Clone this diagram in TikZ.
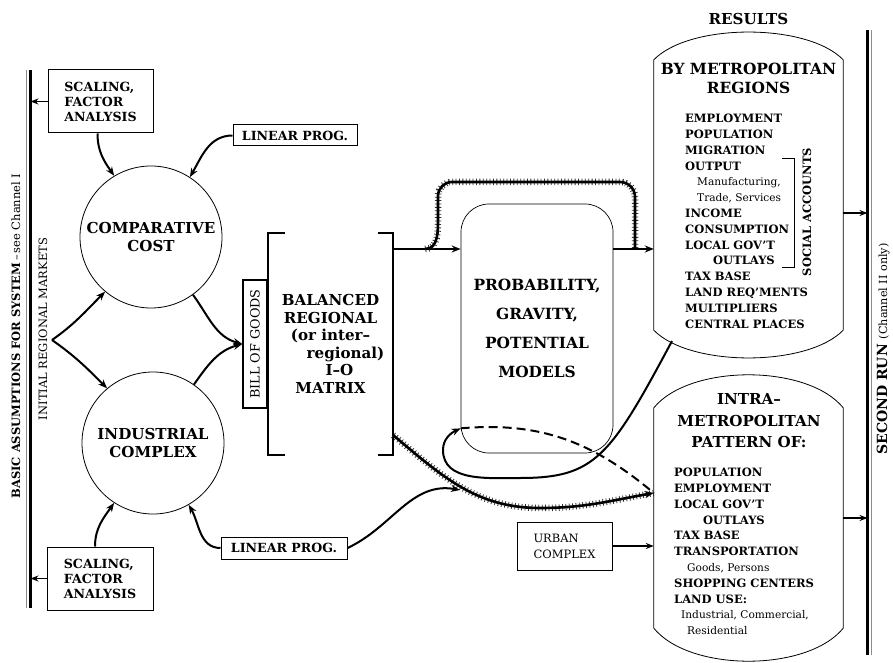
\documentclass[tikz,border=0pt]{standalone}
\usepackage{fontspec}
\setmainfont{DejaVu Serif}
\usepackage{graphicx}
\usepackage{tikz}
\usetikzlibrary{arrows.meta}

\tikzset{
  conn/.style={line width=2pt,-{Stealth[length=9pt,width=7pt]}},
  thinconn/.style={line width=1.4pt,-{Stealth[length=8pt,width=6pt]}},
  hatched/.style={line width=2.6pt,preaction={draw,arrows=-,line width=6.5pt,dash pattern=on 0.8pt off 2.6pt,black!80}},
  bigtxt/.style={font=\fontsize{15.1}{18}\selectfont\bfseries},
  toolbox/.style={draw,line width=1pt,align=left,font=\fontsize{12.6}{15}\selectfont\bfseries},
  listtxt/.style={anchor=north west,inner sep=0pt,align=left,font=\fontsize{11.5}{15.8}\selectfont\bfseries},
  barrel/.style={line width=0.8pt},
}
% outline of a results box round node #1, arch height #2
\newcommand{\barrelpath}[2]{%
  \draw[barrel] (#1.south west) -- (#1.north west)
    .. controls +(36,#2) and +(-36,#2) .. (#1.north east)
    -- (#1.south east)
    .. controls +(-36,-#2) and +(36,-#2) .. (#1.south west) -- cycle;}
\newcommand{\lc}{\mdseries\fontsize{10.6}{15.8}\selectfont}

\begin{document}
\begin{tikzpicture}[x=1pt,y=1pt]
\useasboundingbox (0,0) rectangle (893,662);
% Side bars
\draw[black!45,line width=1.5pt] (26.5,54) -- (26.5,592);
\draw[line width=2.2pt] (30.5,54) coordinate (lb0) -- (30.5,592) coordinate (lb1);
\draw[black!45,line width=1.5pt] (871.5,7) -- (871.5,632);
\draw[line width=2.2pt] (867.5,7) coordinate (rb0) -- (867.5,632) coordinate (rb1);
\node[rotate=90,anchor=base,font=\fontsize{11.5}{13}\selectfont] (basic) at (20,326)
  {\textbf{BASIC ASSUMPTIONS FOR SYSTEM}\,--\,see Channel I};
\node[rotate=90,anchor=base,font=\fontsize{11.5}{14}\selectfont] (irmtxt) at (47,333) {INITIAL REGIONAL MARKETS};
\node[rotate=90,anchor=base] (second) at (887,313)
  {{\fontsize{14}{17}\selectfont\bfseries SECOND RUN}\enspace{\fontsize{11.2}{12}\selectfont(Channel II only)}};
\node[bigtxt] (results) at (748.5,643) {RESULTS};

% Tools
\node[toolbox,minimum width=105pt,minimum height=63pt] (sc1) at (100.5,560.5) {SCALING,\\FACTOR\\ANALYSIS};
\node[toolbox,minimum width=106pt,minimum height=63pt] (sc2) at (100,83.5) {SCALING,\\FACTOR\\ANALYSIS};
\node[toolbox,minimum width=124pt,minimum height=21pt,inner sep=1pt] (lp1) at (295,526.5) {LINEAR PROG.};
\node[toolbox,minimum width=126pt,minimum height=22pt,inner sep=1pt] (lp2) at (284,114) {LINEAR PROG.};

% Location circles
\node[circle,draw,line width=0.8pt,minimum size=142pt,inner sep=0pt,bigtxt,align=center] (cc) at (151,425) {COMPARATIVE\\COST};
\node[circle,draw,line width=0.8pt,minimum size=142pt,inner sep=0pt,bigtxt,align=center] (ic) at (153,219) {INDUSTRIAL\\COMPLEX};
\coordinate (irm) at (52,322);

% I-O matrix
\node[minimum width=125pt,minimum height=222pt,inner sep=0pt,align=center,font=\fontsize{15.1}{17.5}\selectfont\bfseries] (iom) at (330.5,318)
  {BALANCED\\REGIONAL\\(or inter--\\\hspace*{30pt}regional)\\\hspace*{18pt}I--O\\MATRIX};
\draw[line width=2.5pt] ([xshift=17pt]iom.north west) -- (iom.north west) -- (iom.south west) -- ([xshift=17pt]iom.south west);
\draw[line width=2.5pt] ([xshift=-15pt]iom.north east) -- (iom.north east) -- (iom.south east) -- ([xshift=-15pt]iom.south east);
\node[draw,line width=1.5pt,minimum width=24pt,minimum height=128pt,inner sep=0pt,anchor=east,font=\fontsize{12.8}{14}\selectfont] (bog) at (iom.west) {\rotatebox{90}{BILL OF GOODS}};

% Models
\node[draw,rounded corners=28pt,line width=0.7pt,minimum width=152pt,minimum height=249pt,align=center,font=\fontsize{15.4}{29}\selectfont\bfseries] (pgm) at (537,333.5)
  {PROBABILITY,\\GRAVITY,\\POTENTIAL\\MODELS};
\node[draw,line width=0.8pt,minimum width=95pt,minimum height=48pt,align=left,font=\fontsize{11.5}{16}\selectfont] (urb) at (564.5,116) {URBAN\\COMPLEX};

% Results
\node[minimum width=189pt,minimum height=270pt,inner sep=0pt] (reg) at (748.5,467) {};
\barrelpath{reg}{37}
\node[minimum width=189pt,minimum height=220pt,inner sep=0pt] (intra) at (748.5,144) {};
\barrelpath{intra}{44}
\node[align=center,font=\fontsize{15.4}{19}\selectfont\bfseries] (reghead) at (748.5,583.5) {BY METROPOLITAN\\REGIONS};
\node[listtxt] (reglist) at (685,548) {EMPLOYMENT\\POPULATION\\MIGRATION\\OUTPUT\\\hspace*{12pt}{\lc Manufacturing,}\\\hspace*{12pt}{\lc Trade, Services}\\INCOME\\CONSUMPTION\\LOCAL GOV'T\\\hspace*{28pt}OUTLAYS\\TAX BASE\\LAND REQ'MENTS\\MULTIPLIERS\\CENTRAL PLACES};
\draw[line width=0.8pt] (782,504) -- (794,504) -- (794,395) -- (782,395);
\node[rotate=90,anchor=base,font=\fontsize{11.5}{13}\selectfont\bfseries] (social) at (811,450) {SOCIAL ACCOUNTS};
\node[align=center,font=\fontsize{15.1}{21.5}\selectfont\bfseries] (intrahead) at (749,241) {INTRA--\\METROPOLITAN\\PATTERN OF:};
\node[listtxt] (intralist) at (674,194) {POPULATION\\EMPLOYMENT\\LOCAL GOV'T\\\hspace*{29pt}OUTLAYS\\TAX BASE\\TRANSPORTATION\\\hspace*{13pt}{\lc Goods, Persons}\\SHOPPING CENTERS\\LAND USE:\\\hspace*{7pt}{\lc Industrial, Commercial,}\\\hspace*{13pt}{\lc Residential}};

% Connectors, left half
\draw[thinconn] (sc1.west) -- (sc1.west -| lb1);
\draw[thinconn] (sc2.west) -- (sc2.west -| lb0);
\draw[conn] ([xshift=-3pt]sc1.south) to[out=-90,in=125] (cc.121);
\draw[conn] (lp1.west) to[out=180,in=60] (cc.57);
\draw[conn] ([xshift=-5pt]sc2.north) to[out=90,in=235] (ic.237);
\draw[conn] (lp2.west) to[out=180,in=-60] (ic.300);
\draw[conn] (irm) to[out=35,in=225] (cc.230);
\draw[conn] (irm) to[out=-35,in=135] (ic.130);
\draw[conn] (cc.306) to[out=-54,in=165] (bog.west);
\draw[conn] (ic.55) to[out=55,in=195] (bog.west);

% Connectors, right half
\coordinate (iomout) at ([yshift=95pt]iom.east);
\coordinate (regin) at ([yshift=-54pt]reg.west);
\coordinate (regout) at ([yshift=-18pt]reg.east);
\coordinate (iomlow) at ([yshift=20pt]iom.south east);
\coordinate (intin) at ([yshift=25pt]intra.west);
\coordinate (pgmin) at ([yshift=25pt]pgm.south west);
\coordinate (loopst) at (672,321);
\coordinate (merge) at (460,172);
\draw[conn] (iomout) -- (iomout -| pgm.west);
\draw[hatched] ([xshift=32pt]iomout) to[out=0,in=-90] (438,445) -- (438,466) to[out=90,in=180] (452,480)
  -- (620,480) to[out=0,in=90] (635,465) -- (635,413);
\draw[conn] (regin -| pgm.east) -- (regin);
\draw[hatched,-{Stealth[length=9pt,width=7pt]}] (iomlow) to[out=-40,in=180] (540,154) to[out=0,in=190] (intin);
\draw[conn] (lp2.east) to[out=25,in=170] (merge);
\draw[line width=2pt,dash pattern=on 9pt off 5pt] (pgmin) to[out=5,in=140] (intin);
\draw[conn] (loopst) .. controls (610,205) and (595,184) .. (520,184) to[out=180,in=-90] (443,212) to[out=90,in=205] (pgmin);
\draw[thinconn] (urb.east) -- (urb.east -| intra.west);
\draw[thinconn] (regout) -- (regout -| rb1);
\draw[thinconn] (intra.east) -- (intra.east -| rb1);
\end{tikzpicture}
\end{document}
